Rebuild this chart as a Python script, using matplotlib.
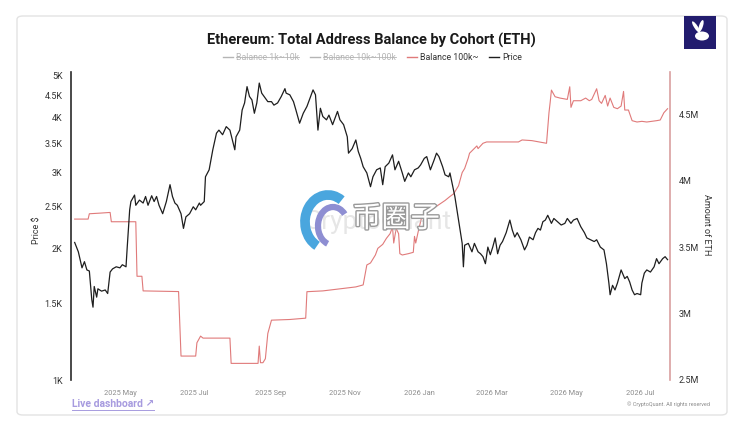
import matplotlib
matplotlib.use("Agg")
import matplotlib.pyplot as plt
import matplotlib.dates as mdates
import matplotlib.patches as mpatches
import matplotlib.patheffects as pe
from matplotlib.lines import Line2D
from matplotlib.ticker import FixedLocator, NullLocator
import pandas as pd

plt.rcParams['font.family'] = ['Roboto', 'DejaVu Sans']

# --- data ---
price_dates = [
    "2025-03-25", "2025-03-28", "2025-03-31", "2025-04-02", "2025-04-04", "2025-04-06",
    "2025-04-08", "2025-04-09", "2025-04-10", "2025-04-12", "2025-04-13", "2025-04-16",
    "2025-04-19", "2025-04-21", "2025-04-23", "2025-04-25", "2025-04-28", "2025-05-01",
    "2025-05-03", "2025-05-06", "2025-05-07", "2025-05-09", "2025-05-10", "2025-05-13",
    "2025-05-14", "2025-05-17", "2025-05-20", "2025-05-22", "2025-05-24", "2025-05-27",
    "2025-05-29", "2025-05-31", "2025-06-02", "2025-06-05", "2025-06-08", "2025-06-11",
    "2025-06-13", "2025-06-15", "2025-06-17", "2025-06-20", "2025-06-22", "2025-06-24",
    "2025-06-27", "2025-06-30", "2025-07-02", "2025-07-05", "2025-07-06", "2025-07-09",
    "2025-07-10", "2025-07-13", "2025-07-16", "2025-07-19", "2025-07-21", "2025-07-24",
    "2025-07-27", "2025-07-30", "2025-08-01", "2025-08-03", "2025-08-04", "2025-08-07",
    "2025-08-09", "2025-08-11", "2025-08-13", "2025-08-15", "2025-08-17", "2025-08-19",
    "2025-08-21", "2025-08-23", "2025-08-25", "2025-08-27", "2025-08-30", "2025-09-02",
    "2025-09-04", "2025-09-07", "2025-09-10", "2025-09-13", "2025-09-14", "2025-09-17",
    "2025-09-20", "2025-09-22", "2025-09-25", "2025-09-28", "2025-10-01", "2025-10-03",
    "2025-10-06", "2025-10-08", "2025-10-10", "2025-10-12", "2025-10-14", "2025-10-17",
    "2025-10-19", "2025-10-22", "2025-10-26", "2025-10-28", "2025-10-31", "2025-11-03",
    "2025-11-04", "2025-11-07", "2025-11-10", "2025-11-12", "2025-11-14", "2025-11-16",
    "2025-11-19", "2025-11-22", "2025-11-24", "2025-11-27", "2025-11-30", "2025-12-02",
    "2025-12-04", "2025-12-07", "2025-12-10", "2025-12-12", "2025-12-15", "2025-12-18",
    "2025-12-20", "2025-12-23", "2025-12-25", "2025-12-28", "2025-12-31", "2026-01-02",
    "2026-01-05", "2026-01-07", "2026-01-10", "2026-01-13", "2026-01-15", "2026-01-17",
    "2026-01-20", "2026-01-22", "2026-01-25", "2026-01-26", "2026-01-28", "2026-01-30",
    "2026-02-02", "2026-02-05", "2026-02-06", "2026-02-07", "2026-02-10", "2026-02-13",
    "2026-02-15", "2026-02-18", "2026-02-20", "2026-02-22", "2026-02-24", "2026-02-26",
    "2026-02-28", "2026-03-02", "2026-03-04", "2026-03-06", "2026-03-08", "2026-03-10",
    "2026-03-13", "2026-03-16", "2026-03-18", "2026-03-20", "2026-03-22", "2026-03-25",
    "2026-03-28", "2026-03-30", "2026-04-01", "2026-04-04", "2026-04-06", "2026-04-08",
    "2026-04-10", "2026-04-12", "2026-04-14", "2026-04-16", "2026-04-19", "2026-04-21",
    "2026-04-24", "2026-04-27", "2026-04-30", "2026-05-02", "2026-05-05", "2026-05-07",
    "2026-05-10", "2026-05-13", "2026-05-16", "2026-05-18", "2026-05-21", "2026-05-24",
    "2026-05-26", "2026-05-29", "2026-06-01", "2026-06-03", "2026-06-05", "2026-06-06",
    "2026-06-08", "2026-06-10", "2026-06-12", "2026-06-15", "2026-06-18", "2026-06-20",
    "2026-06-22", "2026-06-24", "2026-06-26", "2026-06-28", "2026-07-01", "2026-07-02",
    "2026-07-04", "2026-07-06", "2026-07-09", "2026-07-12", "2026-07-14", "2026-07-16",
    "2026-07-19", "2026-07-21", "2026-07-23",
]
price_values = [
    2070, 1970, 1810, 1870, 1790, 1780,
    1530, 1470, 1640, 1550, 1620, 1600,
    1610, 1580, 1770, 1800, 1820, 1810,
    1840, 1820, 2020, 2460, 2570, 2660,
    2520, 2590, 2550, 2640, 2520, 2650,
    2570, 2640, 2520, 2410, 2570, 2810,
    2640, 2550, 2520, 2410, 2230, 2370,
    2410, 2500, 2460, 2550, 2520, 2570,
    2930, 3040, 3380, 3690, 3750, 3660,
    3820, 3750, 3560, 3380, 3620, 3750,
    4170, 4330, 4720, 4480, 4400, 4100,
    4330, 4810, 4560, 4480, 4360, 4360,
    4280, 4330, 4480, 4670, 4560, 4520,
    4360, 4170, 3890, 4100, 4250, 4400,
    4640, 4520, 3750, 4210, 4030, 3960,
    4060, 3860, 4140, 3960, 3860, 3620,
    3320, 3400, 3560, 3350, 3230, 3090,
    2990, 2780, 2930, 3040, 3070, 2810,
    3090, 3150, 3290, 3040, 3180, 2990,
    2860, 2990, 2930, 3040, 3070, 3120,
    3230, 3260, 3040, 3200, 3320, 3260,
    3090, 2960, 2930, 2990, 2810, 2640,
    2330, 2060, 1820, 2040, 2060, 1970,
    2060, 1970, 1950, 1920, 1850, 2020,
    1940, 2020, 2120, 1950, 2040, 2080,
    2180, 2330, 2210, 2130, 2180, 2100,
    1990, 2040, 2130, 2100, 2180, 2230,
    2210, 2310, 2330, 2390, 2290, 2350,
    2310, 2270, 2290, 2350, 2290, 2330,
    2350, 2250, 2180, 2120, 2100, 2080,
    2100, 2020, 1990, 1850, 1670, 1570,
    1650, 1610, 1670, 1790, 1710, 1730,
    1680, 1610, 1570, 1580, 1570, 1670,
    1760, 1790, 1770, 1820, 1900, 1850,
    1900, 1920, 1890,
]

# Balance 100k~ (millions of ETH)
balance_dates = [
    "2025-03-25", "2025-04-05", "2025-04-06", "2025-04-15", "2025-04-23", "2025-04-24",
    "2025-05-14", "2025-05-15", "2025-05-19", "2025-05-20", "2025-06-18", "2025-06-20",
    "2025-07-02", "2025-07-03", "2025-07-06", "2025-07-08", "2025-07-30", "2025-07-31",
    "2025-08-22", "2025-08-23", "2025-08-24", "2025-08-26", "2025-08-28", "2025-08-30",
    "2025-09-02", "2025-09-17", "2025-09-30", "2025-10-01", "2025-10-14", "2025-11-01",
    "2025-11-10", "2025-11-16", "2025-11-19", "2025-11-22", "2025-11-26", "2025-11-28",
    "2025-12-02", "2025-12-05", "2025-12-08", "2025-12-10", "2025-12-11", "2025-12-13",
    "2025-12-15", "2025-12-16", "2025-12-18", "2025-12-23", "2025-12-27", "2025-12-28",
    "2025-12-29", "2025-12-31", "2026-01-03", "2026-01-06", "2026-01-10", "2026-01-14",
    "2026-01-22", "2026-01-26", "2026-01-29", "2026-02-02", "2026-02-05", "2026-02-07",
    "2026-02-10", "2026-02-11", "2026-02-17", "2026-02-18", "2026-02-22", "2026-02-25",
    "2026-03-23", "2026-03-25", "2026-03-26", "2026-04-03", "2026-04-09", "2026-04-15",
    "2026-04-17", "2026-04-18", "2026-04-19", "2026-04-22", "2026-04-26", "2026-05-02",
    "2026-05-04", "2026-05-05", "2026-05-07", "2026-05-13", "2026-05-17", "2026-05-20",
    "2026-05-22", "2026-05-26", "2026-05-28", "2026-05-30", "2026-06-02", "2026-06-04",
    "2026-06-06", "2026-06-09", "2026-06-12", "2026-06-15", "2026-06-17", "2026-06-18",
    "2026-06-21", "2026-06-24", "2026-06-28", "2026-07-02", "2026-07-06", "2026-07-10",
    "2026-07-14", "2026-07-17", "2026-07-20", "2026-07-23",
]
balance_values = [
    3.71, 3.71, 3.75, 3.755, 3.76, 3.69,
    3.69, 3.28, 3.28, 3.17, 3.165, 2.68,
    2.68, 2.78, 2.83, 2.815, 2.815, 2.625,
    2.625, 2.755, 2.63, 2.63, 2.66, 2.85,
    2.95, 2.955, 2.965, 3.164, 3.17, 3.19,
    3.20, 3.215, 3.365, 3.38, 3.44, 3.49,
    3.52, 3.565, 3.60, 3.65, 3.53, 3.64,
    3.60, 3.45, 3.44, 3.45, 3.46, 3.58,
    3.53, 3.615, 3.73, 3.75, 3.78, 3.80,
    3.85, 3.88, 3.90, 3.96, 4.06, 4.09,
    4.17, 4.205, 4.26, 4.24, 4.28, 4.29,
    4.29, 4.30, 4.305, 4.30, 4.29, 4.28,
    4.51, 4.59, 4.68, 4.63, 4.62, 4.61,
    4.705, 4.55, 4.60, 4.60, 4.62, 4.60,
    4.61, 4.69, 4.60, 4.58, 4.64, 4.56,
    4.62, 4.55, 4.54, 4.56, 4.67, 4.53,
    4.53, 4.45, 4.44, 4.445, 4.44, 4.445,
    4.45, 4.455, 4.51, 4.54,
]

price_ticks = [1000, 1500, 2000, 2500, 3000, 3500, 4000, 4500, 5000]
price_tick_labels = ["1K", "1.5K", "2K", "2.5K", "3K", "3.5K", "4K", "4.5K", "5K"]
balance_ticks = [2.5, 3.0, 3.5, 4.0, 4.5]
balance_tick_labels = ["2.5M", "3M", "3.5M", "4M", "4.5M"]
month_ticks = ["2025-05-01", "2025-07-01", "2025-09-01", "2025-11-01",
               "2026-01-01", "2026-03-01", "2026-05-01", "2026-07-01"]

W, H = 750, 438


def fx(px):
    return px / W


def fy(py):
    return 1 - py / H


fig = plt.figure(figsize=(7.5, 4.38), dpi=100)
fig.patch.set_facecolor("white")

# card behind everything
card = mpatches.FancyBboxPatch((fx(17), fy(415)), fx(727) - fx(17), fy(16) - fy(415),
                               boxstyle="round,pad=0,rounding_size=0.008",
                               transform=fig.transFigure, facecolor="white",
                               edgecolor="#e3e3e3", linewidth=1.0, zorder=-5)
fig.patches.append(card)

# logo top right
logo = mpatches.Rectangle((fx(684), fy(49)), fx(716) - fx(684), fy(16) - fy(49),
                          transform=fig.transFigure, facecolor="#221c6e",
                          edgecolor="none", zorder=1)
fig.patches.append(logo)
fig.patches.append(mpatches.Ellipse((fx(702), fy(36)), fx(14), fy(0) - fy(9),
                                    transform=fig.transFigure, facecolor="white",
                                    edgecolor="none", zorder=2))
fig.patches.append(mpatches.Ellipse((fx(696), fy(27)), fx(4), fy(0) - fy(12), angle=20,
                                    transform=fig.transFigure, facecolor="white",
                                    edgecolor="none", zorder=2))
fig.patches.append(mpatches.Ellipse((fx(701), fy(26)), fx(4), fy(0) - fy(12), angle=-10,
                                    transform=fig.transFigure, facecolor="white",
                                    edgecolor="none", zorder=2))

ax = fig.add_axes([fx(71), fy(380), fx(670) - fx(71), fy(72) - fy(380)])
ax2 = ax.twinx()
ax2.set_zorder(1)
ax.set_zorder(2)
ax.patch.set_visible(False)
ax2.set_facecolor("#f1f1f1")

pdates = pd.to_datetime(price_dates)
bdates = pd.to_datetime(balance_dates)

ax2.plot(bdates, balance_values, color="#e07a7a", linewidth=0.8)
ax.plot(pdates, price_values, color="#1e1e1e", linewidth=0.9)

ax.set_yscale("log")
ax.set_ylim(1000, 5100)
ax.yaxis.set_major_locator(FixedLocator(price_ticks))
ax.yaxis.set_minor_locator(NullLocator())
ax.set_yticklabels(price_tick_labels)

ax2.set_ylim(2.5, 4.816)
ax2.set_yticks(balance_ticks)
ax2.set_yticklabels(balance_tick_labels)

ax.set_xlim(pd.Timestamp("2025-03-22"), pd.Timestamp("2026-07-25"))
ax.set_xticks(pd.to_datetime(month_ticks))
ax.xaxis.set_major_formatter(mdates.DateFormatter("%Y %b"))

for s in ["top", "bottom", "right"]:
    ax.spines[s].set_visible(False)
for s in ["top", "bottom", "left"]:
    ax2.spines[s].set_visible(False)
ax.spines["left"].set_color("#2a2a2a")
ax.spines["left"].set_linewidth(1.2)
ax2.spines["right"].set_color("#d9a0a0")
ax2.spines["right"].set_linewidth(1.2)

ax.tick_params(axis="y", length=0, labelsize=6.5, labelcolor="#333333", pad=6)
ax2.tick_params(axis="y", length=0, labelsize=6.5, labelcolor="#333333", pad=6)
ax.tick_params(axis="x", length=0, labelsize=5.3, labelcolor="#8c8c8c", pad=7)

fig.text(fx(37), fy(230), "Price $", rotation=90, ha="center", va="center",
         fontsize=6.5, color="#333333")
fig.text(fx(706), fy(225), "Amount of ETH", rotation=270, ha="center", va="center",
         fontsize=6.5, color="#333333")

# title
fig.text(fx(371), fy(40), "Ethereum: Total Address Balance by Cohort (ETH)",
         ha="center", va="center", fontsize=10.5, fontweight="bold", color="#1a1a1a")

# legend (first two entries are switched off / struck through)
legend_items = [
    ("Balance 1k~10k", 223, "#b5b5b5", "#b5b5b5", True),
    ("Balance 10k~100k", 310, "#b5b5b5", "#b5b5b5", True),
    ("Balance 100k~", 407, "#e07a7a", "#333333", False),
    ("Price", 489, "#1e1e1e", "#333333", False),
]
renderer = fig.canvas.get_renderer()
for label, x0, lcol, tcol, struck in legend_items:
    fig.add_artist(Line2D([fx(x0), fx(x0 + 10)], [fy(57), fy(57)],
                          transform=fig.transFigure, color=lcol, linewidth=1.0))
    t = fig.text(fx(x0 + 13), fy(57), label, ha="left", va="center",
                 fontsize=6.3, color=tcol)
    if struck:
        bb = t.get_window_extent(renderer=renderer)
        fig.add_artist(Line2D([bb.x0 / W, bb.x1 / W], [fy(57), fy(57)],
                              transform=fig.transFigure, color=tcol, linewidth=0.6))

# watermark overlay
fig.text(fx(378), fy(222), "CryptoQuant", ha="center", va="center", fontsize=19,
         color="#c8c8c8", alpha=0.45, zorder=5)
arc1 = mpatches.Arc((fx(328), fy(222)), fx(46), fy(0) - fy(54), theta1=70, theta2=255,
                    transform=fig.transFigure, color="#4aa6de", linewidth=7, zorder=6)
arc2 = mpatches.Arc((fx(333), fy(226)), fx(30), fy(0) - fy(38), theta1=60, theta2=260,
                    transform=fig.transFigure, color="#8e8ed2", linewidth=4.5, zorder=6)
fig.add_artist(arc1)
fig.add_artist(arc2)
wm = fig.text(fx(396), fy(219), "币圈子", ha="center", va="center", fontsize=21,
              color="white", family=["Noto Sans CJK SC", "DejaVu Sans"], zorder=7)
wm.set_path_effects([pe.Stroke(linewidth=2, foreground="#9a9a9a"), pe.Normal()])

# footer
dash = fig.text(fx(72), fy(404), "Live dashboard \u2197", ha="left", va="center",
                fontsize=7.5, fontweight="bold", color="#a79bdf")
bb = dash.get_window_extent(renderer=renderer)
fig.add_artist(Line2D([bb.x0 / W, bb.x1 / W], [bb.y0 / H - 0.002, bb.y0 / H - 0.002],
                      transform=fig.transFigure, color="#a79bdf", linewidth=0.7))
fig.text(fx(710), fy(404), "\u00a9 CryptoQuant. All rights reserved", ha="right",
         va="center", fontsize=4, color="#8c8c8c")

fig.savefig("out.png", dpi=100, facecolor="white")
